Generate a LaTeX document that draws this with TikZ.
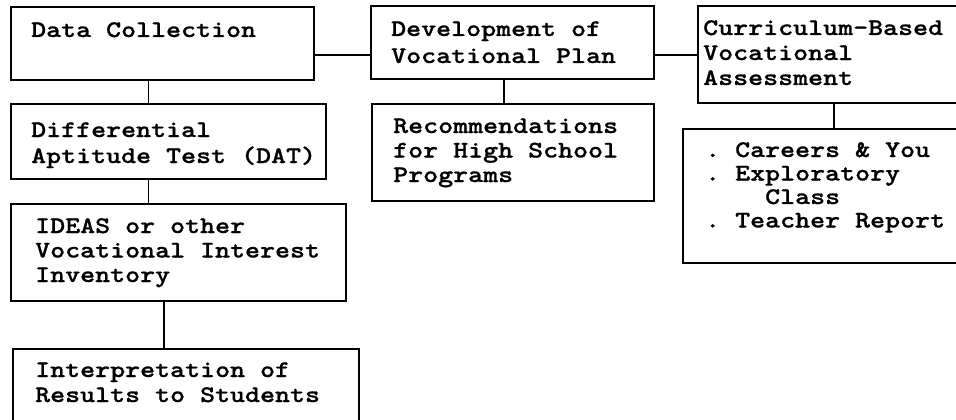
\documentclass[tikz,border=0pt]{standalone}
\usepackage{fontspec}
\newfontfamily\courf{lmmonolt10-bold.otf}[FakeStretch=1.2, FakeBold=0.8, WordSpace={1,0,0}]
\newcommand\fixspc{\fontdimen2\font=14.99pt\relax\fontdimen3\font=0pt\relax\fontdimen4\font=0pt\relax}
\newcommand\txtfont[1]{\courf\fontsize{23.8}{#1}\selectfont\fixspc\frenchspacing}
\begin{document}
\begin{tikzpicture}[x=1pt, y=-1pt,
  box/.style={draw, line width=1.6pt, inner sep=0pt, anchor=north west},
  link/.style={line width=1.6pt},
  txt/.style={inner sep=0pt, anchor=base west, text width=400pt, align=flush left,
    font=\txtfont{#1}},
  txt/.default=24.5]
\useasboundingbox (0,0) rectangle (956,420);
\clip (0,0) rectangle (956,420);
% boxes
\node[box, minimum width=303pt, minimum height=73pt] (dc) at (10,6) {};
\node[box, minimum width=315pt, minimum height=75pt] (dat) at (10,103) {};
\node[box, minimum width=335pt, minimum height=97pt] (ideas) at (10,203) {};
\node[box, minimum width=346pt, minimum height=82pt] (interp) at (12,348) {};
\node[box, minimum width=283pt, minimum height=73pt] (dev) at (370,5) {};
\node[box, minimum width=282pt, minimum height=97pt] (rec) at (371,103) {};
\node[box, minimum width=280pt, minimum height=97pt] (cbva) at (697,5) {};
\node[box, minimum width=295pt, minimum height=134pt] (list) at (682,128) {};
% texts
\node[txt] (tdc) at (31,37) {Data Collection};
\node[txt=26] (tdat) at (31,137) {Differential\\Aptitude Test (DAT)};
\node[txt] (tideas) at (35,233) {IDEAS or other\\Vocational Interest\\Inventory};
\node[txt=25] (tinterp) at (35,377) {Interpretation of\\Results to Students};
\node[txt=27] (tdev) at (391,36) {Development of\\Vocational Plan};
\node[txt] (trec) at (393,133) {Recommendations\\for High School\\Programs};
\node[txt=25] (tcbva) at (703,35) {Curriculum-Based\\Vocational\\Assessment};
\node[txt=23.5] (tlist) at (705,157) {. Careers \& You\\. Exploratory\\\hphantom{. Ex}Class\\. Teacher Report};
% connectors
\coordinate (a) at ([yshift=-12pt]dc.east);
\draw[link] (a) -- (a -| dev.west);
\coordinate (b) at ([yshift=-12.5pt]dev.east);
\draw[link] (b) -- (b -| cbva.west);
\coordinate (c) at ([xshift=-14pt]dc.south);
\draw[link] (c) -- (c |- dat.north);
\draw[link] (c |- dat.south) -- (c |- ideas.north);
\coordinate (d) at ([xshift=-14.5pt]ideas.south);
\draw[link] (d) -- (d |- interp.north);
\coordinate (e) at ([xshift=-8.5pt]dev.south);
\draw[link] (e) -- (e |- rec.north);
\coordinate (f) at ([xshift=-4pt]cbva.south);
\draw[link] (f) -- (f |- list.north);
\end{tikzpicture}
\end{document}
